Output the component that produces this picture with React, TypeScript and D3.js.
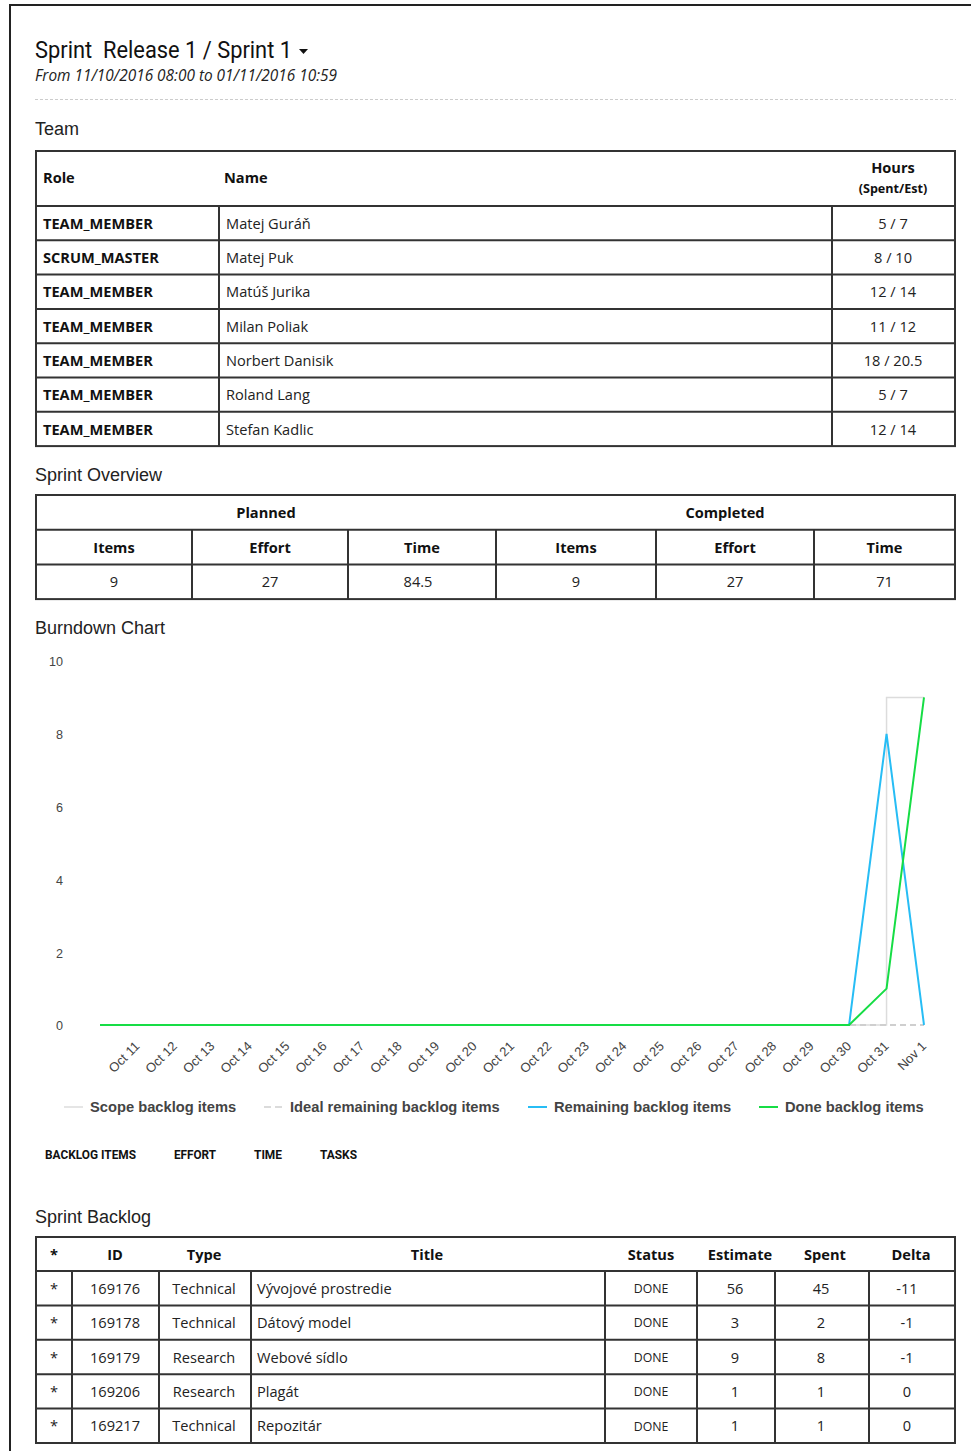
import React, { useEffect, useRef } from 'react';
import * as d3 from 'd3';

// Team
const teamRoles = ['TEAM_MEMBER', 'SCRUM_MASTER', 'TEAM_MEMBER', 'TEAM_MEMBER', 'TEAM_MEMBER', 'TEAM_MEMBER', 'TEAM_MEMBER'];
const teamNames = ['Matej Guráň', 'Matej Puk', 'Matúš Jurika', 'Milan Poliak', 'Norbert Danisik', 'Roland Lang', 'Stefan Kadlic'];
const teamHours = ['5 / 7', '8 / 10', '12 / 14', '11 / 12', '18 / 20.5', '5 / 7', '12 / 14'];

// Sprint overview
const overviewGroups = ['Planned', 'Completed'];
const overviewCols = ['Items', 'Effort', 'Time', 'Items', 'Effort', 'Time'];
const overviewValues = ['9', '27', '84.5', '9', '27', '71'];

// Burndown (one point per day, Oct 10 .. Nov 1)
const chartDays = ['2016-10-10', '2016-10-11', '2016-10-12', '2016-10-13', '2016-10-14', '2016-10-15', '2016-10-16', '2016-10-17', '2016-10-18', '2016-10-19', '2016-10-20', '2016-10-21', '2016-10-22', '2016-10-23', '2016-10-24', '2016-10-25', '2016-10-26', '2016-10-27', '2016-10-28', '2016-10-29', '2016-10-30', '2016-10-31', '2016-11-01'];
const scopeItems = [0, 0, 0, 0, 0, 0, 0, 0, 0, 0, 0, 0, 0, 0, 0, 0, 0, 0, 0, 0, 0, 9, 9];
const idealItems = [0, 0, 0, 0, 0, 0, 0, 0, 0, 0, 0, 0, 0, 0, 0, 0, 0, 0, 0, 0, 0, 0, 0];
const remainingItems = [0, 0, 0, 0, 0, 0, 0, 0, 0, 0, 0, 0, 0, 0, 0, 0, 0, 0, 0, 0, 0, 8, 0];
const doneItems = [0, 0, 0, 0, 0, 0, 0, 0, 0, 0, 0, 0, 0, 0, 0, 0, 0, 0, 0, 0, 0, 1, 9];
const yTicks = [0, 2, 4, 6, 8, 10];
const legendLabels = ['Scope backlog items', 'Ideal remaining backlog items', 'Remaining backlog items', 'Done backlog items'];
const tabLabels = ['BACKLOG ITEMS', 'EFFORT', 'TIME', 'TASKS'];

// Sprint backlog
const backlogHeaders = ['*', 'ID', 'Type', 'Title', 'Status', 'Estimate', 'Spent', 'Delta'];
const backlogIds = ['169176', '169178', '169179', '169206', '169217'];
const backlogTypes = ['Technical', 'Technical', 'Research', 'Research', 'Technical'];
const backlogTitles = ['Vývojové prostredie', 'Dátový model', 'Webové sídlo', 'Plagát', 'Repozitár'];
const backlogStatus = ['DONE', 'DONE', 'DONE', 'DONE', 'DONE'];
const backlogEstimate = [56, 3, 9, 1, 1];
const backlogSpent = [45, 2, 8, 1, 1];

const OPEN = '"Open Sans", "DejaVu Sans", sans-serif';
const ROBOTO = 'Roboto, "Liberation Sans", sans-serif';
const ARIAL = '"Liberation Sans", Arial, sans-serif';
const BORDER = '#333';
const FS = 14.6;

const BurndownChart = () => {
  const gRef = useRef<SVGGElement>(null);

  useEffect(() => {
    const g = d3.select(gRef.current);
    g.selectAll('*').remove();

    const parse = d3.timeParse('%Y-%m-%d');
    const dates = chartDays.map(d => parse(d) as Date);
    const x = d3.scaleTime().domain([dates[0], dates[dates.length - 1]]).range([100, 924]);
    const y = d3.scaleLinear().domain([0, 10]).range([1025, 661]);

    // y labels
    g.selectAll('text.ylab')
      .data(yTicks)
      .enter()
      .append('text')
      .attr('class', 'ylab')
      .attr('x', 63)
      .attr('y', d => y(d) + 1)
      .attr('dy', '0.35em')
      .attr('text-anchor', 'end')
      .style('font-family', ARIAL)
      .style('font-size', '12.6px')
      .style('fill', '#444')
      .text(d => d);

    // x labels (every day from Oct 11)
    const fmt = d3.timeFormat('%b %-d');
    g.selectAll('text.xlab')
      .data(dates.slice(1))
      .enter()
      .append('text')
      .attr('class', 'xlab')
      .attr('transform', d => `translate(${x(d) + 3},${1047}) rotate(-45)`)
      .attr('text-anchor', 'end')
      .style('font-family', ARIAL)
      .style('font-size', '13px')
      .style('fill', '#444')
      .text(d => fmt(d));

    const mk = (vals: number[], curve: d3.CurveFactory) =>
      d3.line<number>().x((_, i) => x(dates[i])).y(v => y(v)).curve(curve)(vals);

    const series = [
      { vals: scopeItems, color: '#dcdcdc', width: 1.5, dash: null, curve: d3.curveStepAfter },
      { vals: idealItems, color: '#cfcfcf', width: 2, dash: '6,4', curve: d3.curveLinear },
      { vals: remainingItems, color: '#27bdf5', width: 2, dash: null, curve: d3.curveLinear },
      { vals: doneItems, color: '#16dd45', width: 2, dash: null, curve: d3.curveLinear },
    ];

    series.forEach(s => {
      g.append('path')
        .attr('d', mk(s.vals, s.curve))
        .style('fill', 'none')
        .style('stroke', s.color)
        .style('stroke-width', s.width)
        .style('stroke-dasharray', s.dash);
    });

    // legend
    const legendX = [64, 264, 528, 759];
    legendLabels.forEach((lab, i) => {
      const s = series[i];
      g.append('line')
        .attr('x1', legendX[i]).attr('x2', legendX[i] + 19)
        .attr('y1', 1107).attr('y2', 1107)
        .style('stroke', s.color)
        .style('stroke-width', i < 2 ? 1.5 : 2)
        .style('stroke-dasharray', i === 1 ? '7,4' : null);
      g.append('text')
        .attr('x', legendX[i] + 26)
        .attr('y', 1112)
        .style('font-family', ARIAL)
        .style('font-size', '14.7px')
        .style('font-weight', 'bold')
        .style('fill', '#444')
        .text(lab);
    });
  }, []);

  return <g ref={gRef} />;
};

const App = () => {
  const left = 36;
  const right = 955;

  // team table geometry
  const teamTop = 151;
  const teamHeadH = 55;
  const teamRowH = 34.3;
  const teamRowY = (i: number) => teamTop + teamHeadH + i * teamRowH;
  const teamBottom = teamRowY(teamRoles.length);

  // overview
  const ovTop = 495;
  const ovRowH = 34.7;
  const ovCols = [36, 192, 348, 496, 656, 814, 955];

  // backlog
  const blTop = 1237;
  const blHeadH = 34;
  const blRowH = 34.4;
  const blRowY = (i: number) => blTop + blHeadH + i * blRowH;
  const blBottom = blRowY(backlogIds.length);
  const blCols = [36, 72, 159, 251, 605, 697, 775, 869, 955];
  const blHeadX = [54, 115, 204, 427, 651, 740, 825, 911];
  const blBodyX = [54, 115, 204, 257, 651, 735, 821, 907];

  const sectionTitle = (t: string, yy: number) => (
    <text x={35} y={yy} style={{ fontFamily: ARIAL, fontSize: 18, fill: '#222' }}>{t}</text>
  );

  return (
    <svg width={971} height={1451} style={{ position: 'absolute', left: 0, top: 0, background: '#fff' }}>
      <rect x={0} y={0} width={971} height={1451} fill="#fff" />
      {/* page frame */}
      <line x1={10} x2={10} y1={4} y2={1451} stroke="#222" strokeWidth={2} />
      <line x1={9} x2={971} y1={5} y2={5} stroke="#222" strokeWidth={2} />

      {/* header */}
      <text x={35} y={58} textLength={257} lengthAdjust="spacingAndGlyphs"
        style={{ fontFamily: ROBOTO, fontSize: 23, fill: '#111', whiteSpace: 'pre' }}>
        Sprint  Release 1 / Sprint 1
      </text>
      <path d="M299,49 L308,49 L303.5,54 Z" fill="#111" />
      <text x={35} y={81} style={{ fontFamily: OPEN, fontSize: 15.4, fontStyle: 'italic', fill: '#222' }}>
        From 11/10/2016 08:00 to 01/11/2016 10:59
      </text>
      <line x1={35} x2={956} y1={99.5} y2={99.5} stroke="#ccc" strokeDasharray="3,2" />

      {/* Team */}
      {sectionTitle('Team', 135)}
      <g>
        <rect x={left} y={teamTop} width={right - left} height={teamBottom - teamTop} fill="none" stroke={BORDER} strokeWidth={2} />
        {teamRoles.map((_, i) => (
          <line key={'tl' + i} x1={left} x2={right} y1={teamRowY(i)} y2={teamRowY(i)} stroke={BORDER} strokeWidth={2} />
        ))}
        <line x1={219} x2={219} y1={teamRowY(0)} y2={teamBottom} stroke={BORDER} strokeWidth={2} />
        <line x1={832} x2={832} y1={teamRowY(0)} y2={teamBottom} stroke={BORDER} strokeWidth={2} />
        <text x={43} y={178} dy="0.35em" style={{ fontFamily: OPEN, fontSize: FS, fontWeight: 'bold', fill: '#111' }}>Role</text>
        <text x={224} y={178} dy="0.35em" style={{ fontFamily: OPEN, fontSize: FS, fontWeight: 'bold', fill: '#111' }}>Name</text>
        <text x={893} y={168} dy="0.35em" textAnchor="middle" style={{ fontFamily: OPEN, fontSize: FS, fontWeight: 'bold', fill: '#111' }}>Hours</text>
        <text x={893} y={189} dy="0.35em" textAnchor="middle" style={{ fontFamily: OPEN, fontSize: 12.6, fontWeight: 'bold', fill: '#111' }}>(Spent/Est)</text>
        {teamRoles.map((r, i) => {
          const cy = teamRowY(i) + teamRowH / 2 + 0.5;
          return (
            <g key={'tr' + i} style={{ fontFamily: OPEN, fontSize: FS, fill: '#222' }}>
              <text x={43} y={cy} dy="0.35em" style={{ fontWeight: 'bold', fill: '#111' }}>{r}</text>
              <text x={226} y={cy} dy="0.35em">{teamNames[i]}</text>
              <text x={893} y={cy} dy="0.35em" textAnchor="middle">{teamHours[i]}</text>
            </g>
          );
        })}
      </g>

      {/* Sprint Overview */}
      {sectionTitle('Sprint Overview', 481)}
      <g>
        <rect x={left} y={ovTop} width={right - left} height={ovRowH * 3} fill="none" stroke={BORDER} strokeWidth={2} />
        <line x1={left} x2={right} y1={ovTop + ovRowH} y2={ovTop + ovRowH} stroke={BORDER} strokeWidth={2} />
        <line x1={left} x2={right} y1={ovTop + ovRowH * 2} y2={ovTop + ovRowH * 2} stroke={BORDER} strokeWidth={2} />
        {ovCols.slice(1, -1).map((cx, i) => (
          <line key={'oc' + i} x1={cx} x2={cx} y1={ovTop + ovRowH} y2={ovTop + ovRowH * 3} stroke={BORDER} strokeWidth={2} />
        ))}
        {overviewGroups.map((gname, i) => (
          <text key={'og' + i} x={i === 0 ? 266 : 725} y={ovTop + ovRowH / 2 + 0.5} dy="0.35em" textAnchor="middle"
            style={{ fontFamily: OPEN, fontSize: FS, fontWeight: 'bold', fill: '#111' }}>{gname}</text>
        ))}
        {overviewCols.map((c, i) => {
          const cx = (ovCols[i] + ovCols[i + 1]) / 2;
          return (
            <g key={'ov' + i}>
              <text x={cx} y={ovTop + ovRowH * 1.5 + 0.5} dy="0.35em" textAnchor="middle"
                style={{ fontFamily: OPEN, fontSize: FS, fontWeight: 'bold', fill: '#111' }}>{c}</text>
              <text x={cx - (i === 2 ? 4 : 0)} y={ovTop + ovRowH * 2.5 + 0.5} dy="0.35em" textAnchor="middle"
                style={{ fontFamily: OPEN, fontSize: FS, fill: '#222' }}>{overviewValues[i]}</text>
            </g>
          );
        })}
      </g>

      {/* Burndown */}
      {sectionTitle('Burndown Chart', 634)}
      <BurndownChart />

      {/* tabs */}
      {tabLabels.map((t, i) => {
        const tx = [45, 174, 254, 320][i];
        const tw = [91, 42, 28, 37][i];
        return (
          <text key={'tab' + i} x={tx} y={1159} textLength={tw} lengthAdjust="spacingAndGlyphs"
            style={{ fontFamily: ROBOTO, fontSize: 13, fontWeight: 'bold', fill: '#111' }}>{t}</text>
        );
      })}

      {/* Sprint Backlog */}
      {sectionTitle('Sprint Backlog', 1223)}
      <g>
        <rect x={left} y={blTop} width={right - left} height={blBottom - blTop} fill="none" stroke={BORDER} strokeWidth={2} />
        {backlogIds.map((_, i) => (
          <line key={'bl' + i} x1={left} x2={right} y1={blRowY(i)} y2={blRowY(i)} stroke={BORDER} strokeWidth={2} />
        ))}
        {blCols.slice(1, -1).map((cx, i) => (
          <line key={'bc' + i} x1={cx} x2={cx} y1={blRowY(0)} y2={blBottom} stroke={BORDER} strokeWidth={2} />
        ))}
        {backlogHeaders.map((h, i) => (
          <text key={'bh' + i} x={blHeadX[i]} y={blTop + blHeadH / 2 + 0.5} dy="0.35em" textAnchor="middle"
            style={{ fontFamily: OPEN, fontSize: FS, fontWeight: 'bold', fill: '#111' }}>{h}</text>
        ))}
        {backlogIds.map((id, i) => {
          const cy = blRowY(i) + blRowH / 2 + 0.5;
          const cells = ['*', id, backlogTypes[i], backlogTitles[i], backlogStatus[i],
            String(backlogEstimate[i]), String(backlogSpent[i]), String(backlogSpent[i] - backlogEstimate[i])];
          return (
            <g key={'br' + i} style={{ fontFamily: OPEN, fontSize: FS, fill: '#222' }}>
              {cells.map((c, j) => (
                <text key={j} x={blBodyX[j]} y={cy} dy="0.35em" textAnchor={j === 3 ? 'start' : 'middle'}
                  style={{ fontSize: j === 4 ? 12.3 : FS }}>{c}</text>
              ))}
            </g>
          );
        })}
      </g>
    </svg>
  );
};

export default App;
